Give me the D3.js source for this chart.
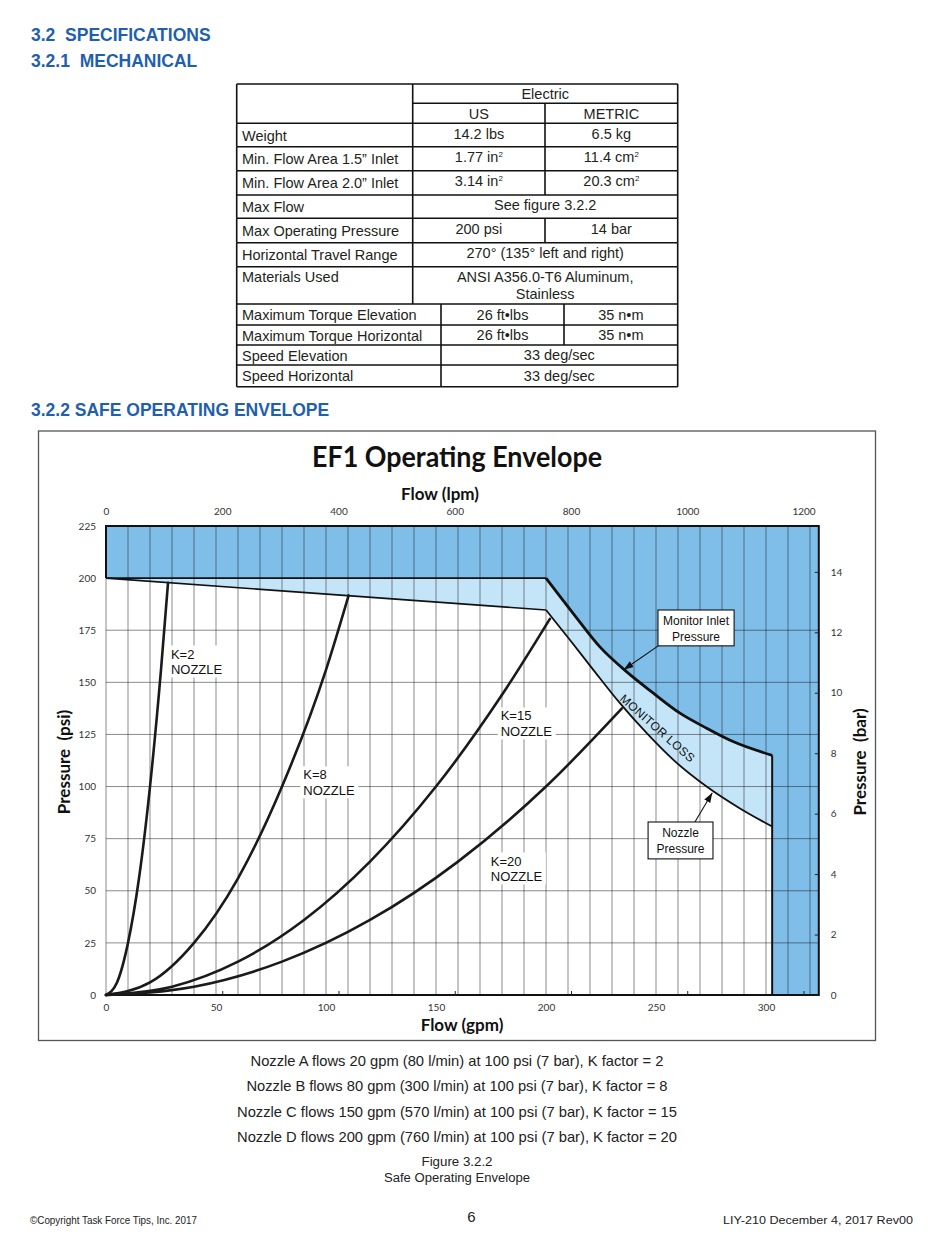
<!DOCTYPE html>
<html lang="en">
<head>
  <meta charset="UTF-8" />
  <title>EF1 Operating Envelope</title>
  <style>
    body { margin: 0; background: #fff; }
    svg { display: block; font-family: "Liberation Sans", Arial, sans-serif; }
    text { white-space: pre; }
    .head { fill: #1f5fad; font-weight: bold; font-size: 17.5px; }
    .cell { fill: #231f20; font-size: 14.5px; }
    .tick text { fill: #333; font-family: Lato, sans-serif; font-size: 10px; }
    .tick line { stroke: #222; }
    .axis-title { font-family: Lato, sans-serif; font-weight: bold; font-size: 17px; fill: #111; }
    .klabel { font-size: 13px; fill: #111; }
    .note { font-size: 12px; fill: #111; }
    .caption { fill: #222; }
  </style>
</head>
<body>
  <div id="page"></div>
  <script src="https://d3js.org/d3.v7.min.js"></script>
  <script>
    // ---- spec table values ----
    var specLabels = ["Weight", "Min. Flow Area 1.5\u201D Inlet", "Min. Flow Area 2.0\u201D Inlet", "Max Flow",
      "Max Operating Pressure", "Horizontal Travel Range", "Materials Used", "Maximum Torque Elevation",
      "Maximum Torque Horizontal", "Speed Elevation", "Speed Horizontal"];
    var specUS = ["14.2 lbs", "1.77 in^2", "3.14 in^2", "See figure 3.2.2", "200 psi",
      "270\u00B0 (135\u00B0 left and right)", "ANSI A356.0-T6 Aluminum,|Stainless",
      "26 ft\u2022lbs", "26 ft\u2022lbs", "33 deg/sec", "33 deg/sec"];
    var specMetric = ["6.5 kg", "11.4 cm^2", "20.3 cm^2", null, "14 bar", null, null,
      "35 n\u2022m", "35 n\u2022m", null, null];

    // ---- chart ticks ----
    var gpmTicks = [0, 50, 100, 150, 200, 250, 300];
    var lpmTicks = [0, 200, 400, 600, 800, 1000, 1200];
    var psiTicks = [0, 25, 50, 75, 100, 125, 150, 175, 200, 225];
    var barTicks = [0, 2, 4, 6, 8, 10, 12, 14];

    // ---- nozzle curves (gpm, psi) ----
    var k2Flow  = [0, 5, 10, 15, 20, 25, 28.2];
    var k2Psi   = [0, 6, 25, 56, 100, 156, 197.8];
    var k8Flow  = [0, 20, 40, 60, 80, 100, 110.3];
    var k8Psi   = [0, 6, 25, 56, 100, 156, 191.7];
    var k15Flow = [0, 30, 60, 90, 120, 150, 180, 201.8];
    var k15Psi  = [0, 4, 16, 36, 64, 100, 144, 180.5];
    var k20Flow = [0, 40, 80, 120, 160, 200, 234.5];
    var k20Psi  = [0, 4, 16, 36, 64, 100, 137.5];

    // ---- envelope ----
    var topFlow = [0, 200];
    var topPsi = [200, 184.7];
    var inletFlow = [200, 212.4, 224.5, 236.7, 248.8, 260.9, 273, 285, 302.8];
    var inletPsi  = [200, 183, 167, 155, 144.8, 135.2, 128, 121.6, 115];
    var nozzleFlow = [200, 210.9, 221.5, 233.6, 245.8, 257.9, 273, 288, 302.8];
    var nozzlePsi  = [184.7, 170.3, 156, 140, 125.6, 112.8, 100, 89.6, 80.8];

    var nozzleNotes = [
      "Nozzle A flows 20 gpm (80 l/min) at 100 psi (7 bar), K factor = 2",
      "Nozzle B flows 80 gpm (300 l/min) at 100 psi (7 bar), K factor = 8",
      "Nozzle C flows 150 gpm (570 l/min) at 100 psi (7 bar), K factor = 15",
      "Nozzle D flows 200 gpm (760 l/min) at 100 psi (7 bar), K factor = 20"];

    var svg = d3.select("#page").append("svg")
      .attr("width", 950).attr("height", 1248);

    // ---- section headings ----
    svg.append("text").attr("class", "head").attr("x", 31).attr("y", 40.5).text("3.2  SPECIFICATIONS");
    svg.append("text").attr("class", "head").attr("x", 31).attr("y", 67).text("3.2.1  MECHANICAL");
    svg.append("text").attr("class", "head").attr("x", 31).attr("y", 415.5).text("3.2.2 SAFE OPERATING ENVELOPE");

    // ---- table ----
    var tbl = svg.append("g");
    var rowLines = [84, 103.3, 123.3, 146.7, 170.7, 195, 218.3, 242.7, 266.7, 304, 325, 345, 365, 386.7];
    var colsA = [236.7, 412.7, 545, 677.7], colsB = [236.7, 441, 564, 677.7];

    function hline(x1, x2, yy) {
      tbl.append("line").attr("x1", x1).attr("x2", x2).attr("y1", yy).attr("y2", yy)
        .attr("stroke", "#111").attr("stroke-width", 1.6);
    }
    function vline(xx, y1, y2) {
      tbl.append("line").attr("x1", xx).attr("x2", xx).attr("y1", y1).attr("y2", y2)
        .attr("stroke", "#111").attr("stroke-width", 1.6);
    }
    function cellText(str, cx, cy, anchor) {
      var t = tbl.append("text").attr("class", "cell").attr("x", cx).attr("y", cy)
        .attr("dy", "0.35em").attr("text-anchor", anchor);
      var parts = str.split("^");
      t.append("tspan").text(parts[0]);
      if (parts[1]) t.append("tspan").attr("dy", -5).attr("font-size", 8).text(parts[1]);
    }

    // header rows
    hline(colsA[0], colsA[3], rowLines[0]);
    hline(colsA[1], colsA[3], rowLines[1]);
    vline(colsA[0], rowLines[0], rowLines[2]);
    vline(colsA[1], rowLines[0], rowLines[2]);
    vline(colsA[3], rowLines[0], rowLines[2]);
    vline(colsA[2], rowLines[1], rowLines[2]);
    cellText("Electric", (colsA[1] + colsA[3]) / 2, 94, "middle");
    cellText("US", (colsA[1] + colsA[2]) / 2, 113.5, "middle");
    cellText("METRIC", (colsA[2] + colsA[3]) / 2, 113.5, "middle");

    specLabels.forEach(function (lab, i) {
      var top = rowLines[i + 2], bot = rowLines[i + 3];
      var cols = i < 7 ? colsA : colsB;
      var mid = (top + bot) / 2;
      var off = i < 7 ? -1.5 : 0;
      hline(cols[0], cols[3], top);
      vline(cols[0], top, bot);
      vline(cols[1], top, bot);
      vline(cols[3], top, bot);
      if (i === 6) {
        cellText(lab, 242, top + 10, "start");
        var lines = specUS[i].split("|");
        cellText(lines[0], (cols[1] + cols[3]) / 2, top + 10.5, "middle");
        cellText(lines[1], (cols[1] + cols[3]) / 2, top + 27.5, "middle");
        return;
      }
      cellText(lab, 242, mid + 0.5, "start");
      if (specMetric[i] !== null) {
        vline(cols[2], top, bot);
        cellText(specUS[i], (cols[1] + cols[2]) / 2, mid + off, "middle");
        cellText(specMetric[i], (cols[2] + cols[3]) / 2, mid + off, "middle");
      } else {
        cellText(specUS[i], (cols[1] + cols[3]) / 2, mid + off, "middle");
      }
    });
    hline(colsA[0], colsA[3], rowLines[rowLines.length - 1]);

    // ---- chart frame ----
    svg.append("rect").attr("x", 38.5).attr("y", 431).attr("width", 837).attr("height", 609.5)
      .attr("fill", "none").attr("stroke", "#555").attr("stroke-width", 1.3);

    svg.append("text").attr("x", 457).attr("y", 467)
      .attr("text-anchor", "middle")
      .attr("font-family", "Lato, sans-serif").attr("font-weight", "bold").attr("font-size", 28)
      .attr("fill", "#111").attr("textLength", 290).attr("lengthAdjust", "spacingAndGlyphs")
      .text("EF1 Operating Envelope");

    // scales: gpm / psi primary, lpm / bar secondary
    var x = d3.scaleLinear().domain([0, 324]).range([106, 818.8]);
    var y = d3.scaleLinear().domain([0, 225]).range([995, 526]);
    var xl = d3.scaleLinear().domain([0, 324 * 3.785]).range(x.range());
    var yb = d3.scaleLinear().domain([0, 225 / 14.5]).range(y.range());

    var plot = svg.append("g");
    var curve = d3.line().x(function (d) { return x(d[0]); }).y(function (d) { return y(d[1]); })
      .curve(d3.curveMonotoneX);
    function pts(fx, py) { return fx.map(function (v, i) { return [v, py[i]]; }); }
    function seg(p) { return curve(p).replace(/^M/, "L"); }
    var inletPts = pts(inletFlow, inletPsi);
    var nozzlePts = pts(nozzleFlow, nozzlePsi);
    var endFlow = inletFlow[inletFlow.length - 1];

    // fills: dark everywhere, light below monitor inlet, white below nozzle pressure
    plot.append("rect").attr("x", x(0)).attr("y", y(225))
      .attr("width", x(324) - x(0)).attr("height", y(0) - y(225)).attr("fill", "#7fbee9");
    plot.append("path").attr("fill", "#c4e5f8")
      .attr("d", "M" + x(0) + "," + y(0) + "L" + x(0) + "," + y(200) + seg(inletPts) +
        "L" + x(endFlow) + "," + y(0) + "Z");
    plot.append("path").attr("fill", "#fff")
      .attr("d", "M" + x(0) + "," + y(0) + "L" + x(topFlow[0]) + "," + y(topPsi[0]) + seg(nozzlePts) +
        "L" + x(endFlow) + "," + y(0) + "Z");

    // grid
    var grid = plot.append("g").attr("stroke", "#1a1a1a").attr("stroke-opacity", 0.5).attr("stroke-width", 1);
    grid.selectAll(".gv").data(d3.range(0, 321, 10)).enter().append("line")
      .attr("x1", function (d) { return x(d); }).attr("x2", function (d) { return x(d); })
      .attr("y1", y(0)).attr("y2", y(225));
    grid.selectAll(".gh").data([25, 50, 75, 100, 125, 150, 175]).enter().append("line")
      .attr("x1", x(0)).attr("x2", x(324))
      .attr("y1", function (d) { return y(d); }).attr("y2", function (d) { return y(d); });

    // black outlines
    var ink = plot.append("g").attr("fill", "none").attr("stroke", "#111");
    function straight(p, w) {
      ink.append("path").attr("stroke-width", w)
        .attr("d", d3.line().x(function (d) { return x(d[0]); }).y(function (d) { return y(d[1]); })(p));
    }
    straight([[0, 200], [0, 225], [324, 225], [324, 0], [0, 0]], 2);
    straight([[0, 200], [200, 200]], 1.6);
    straight(pts(topFlow, topPsi), 1.6);
    straight([[endFlow, 115], [endFlow, 0]], 2);
    ink.append("path").attr("stroke-width", 2.8).attr("d", curve(inletPts));
    ink.append("path").attr("stroke-width", 1.8).attr("d", curve(nozzlePts));

    // nozzle curves
    [[k2Flow, k2Psi], [k8Flow, k8Psi], [k15Flow, k15Psi], [k20Flow, k20Psi]].forEach(function (k) {
      plot.append("path").attr("fill", "none").attr("stroke", "#1a1a1a").attr("stroke-width", 2.6)
        .attr("stroke-linecap", "round").attr("d", curve(pts(k[0], k[1])));
    });

    // axes
    var ax = svg.append("g");
    ax.append("g").attr("transform", "translate(" + x(0) + ",0)")
      .call(d3.axisLeft(y).tickValues(psiTicks).tickSize(0).tickPadding(10))
      .call(function (g) { g.select(".domain").remove(); });
    ax.append("g").attr("transform", "translate(0," + y(0) + ")")
      .call(d3.axisBottom(x).tickValues(gpmTicks).tickSize(0).tickPadding(9))
      .call(function (g) { g.select(".domain").remove(); });
    ax.append("g").attr("transform", "translate(0," + y(225) + ")")
      .call(d3.axisTop(xl).tickValues(lpmTicks).tickSize(0).tickPadding(11).tickFormat(d3.format("d")))
      .call(function (g) { g.select(".domain").remove(); });
    ax.append("g").attr("transform", "translate(0," + y(0) + ")")
      .call(d3.axisBottom(xl).tickValues(lpmTicks.slice(1)).tickSizeInner(-4).tickSizeOuter(0).tickFormat(""))
      .call(function (g) { g.select(".domain").remove(); });
    ax.append("g").attr("transform", "translate(" + x(324) + ",0)")
      .call(d3.axisRight(yb).tickValues(barTicks).tickSizeInner(-4).tickSizeOuter(0).tickPadding(12))
      .call(function (g) { g.select(".domain").remove(); });

    svg.append("text").attr("class", "axis-title").attr("x", 440).attr("y", 500)
      .attr("text-anchor", "middle").text("Flow (lpm)");
    svg.append("text").attr("class", "axis-title").attr("x", 462).attr("y", 1031)
      .attr("text-anchor", "middle").text("Flow (gpm)");
    svg.append("text").attr("class", "axis-title").attr("text-anchor", "middle")
      .attr("transform", "translate(69.5,762) rotate(-90)").text("Pressure  (psi)");
    svg.append("text").attr("class", "axis-title").attr("text-anchor", "middle")
      .attr("transform", "translate(866,762) rotate(-90)").text("Pressure  (bar)");

    // K labels with white backing
    var kLabels = [["K=2", 29.5, 163.6], ["K=8", 89.7, 105.6], ["K=15", 179.4, 133.9], ["K=20", 174.9, 64.3]];
    kLabels.forEach(function (k) {
      var g = svg.append("g").attr("transform", "translate(" + x(k[1]) + "," + y(k[2]) + ")");
      g.append("rect").attr("x", -3).attr("y", -8.5).attr("width", 58).attr("height", 32).attr("fill", "#fff");
      g.append("text").attr("class", "klabel").attr("dy", "0.35em").text(k[0]);
      g.append("text").attr("class", "klabel").attr("y", 15.5).attr("dy", "0.35em").text("NOZZLE");
    });

    // monitor loss label
    svg.append("text").attr("class", "note").attr("text-anchor", "middle").attr("dy", "0.35em")
      .attr("transform", "translate(" + x(250.7) + "," + y(128) + ") rotate(41.5)")
      .attr("letter-spacing", 0.3).text("MONITOR LOSS");

    // callouts
    svg.append("defs").append("marker").attr("id", "arr")
      .attr("viewBox", "0 0 10 10").attr("refX", 10).attr("refY", 5)
      .attr("markerWidth", 9).attr("markerHeight", 9).attr("orient", "auto")
      .append("path").attr("d", "M0,1.5L10,5L0,8.5Z").attr("fill", "#111");

    function callout(b, l1, l2, from, to) {
      svg.append("line").attr("x1", x(from[0])).attr("y1", y(from[1]))
        .attr("x2", x(to[0])).attr("y2", y(to[1]))
        .attr("stroke", "#111").attr("stroke-width", 1.1).attr("marker-end", "url(#arr)");
      var x0 = x(b[0]), x1 = x(b[1]), y0 = y(b[2]), y1 = y(b[3]);
      svg.append("rect").attr("x", x0).attr("y", y0).attr("width", x1 - x0).attr("height", y1 - y0)
        .attr("fill", "#fff").attr("stroke", "#111").attr("stroke-width", 1.1);
      svg.append("text").attr("class", "note").attr("text-anchor", "middle")
        .attr("x", (x0 + x1) / 2).attr("y", y0 + 11).attr("dy", "0.35em").text(l1);
      svg.append("text").attr("class", "note").attr("text-anchor", "middle")
        .attr("x", (x0 + x1) / 2).attr("y", y0 + 26.5).attr("dy", "0.35em").text(l2);
    }
    callout([250.9, 285.5, 184.7, 167.5], "Monitor Inlet", "Pressure", [251, 167.5], [235.3, 156]);
    callout([246.4, 275.9, 83, 65.3], "Nozzle", "Pressure", [267.7, 83], [275.6, 97]);

    // ---- notes under chart ----
    var noteY = [1061, 1086, 1112, 1137], noteW = [413, 421, 440, 440];
    nozzleNotes.forEach(function (n, i) {
      svg.append("text").attr("class", "caption").attr("x", 457).attr("y", noteY[i]).attr("dy", "0.35em")
        .attr("text-anchor", "middle").attr("font-size", 14.5)
        .attr("textLength", noteW[i]).attr("lengthAdjust", "spacingAndGlyphs").text(n);
    });
    svg.append("text").attr("class", "caption").attr("x", 457).attr("y", 1162).attr("dy", "0.35em")
      .attr("text-anchor", "middle").attr("font-size", 12.5)
      .attr("textLength", 71).attr("lengthAdjust", "spacingAndGlyphs").text("Figure 3.2.2");
    svg.append("text").attr("class", "caption").attr("x", 457).attr("y", 1178).attr("dy", "0.35em")
      .attr("text-anchor", "middle").attr("font-size", 12.5)
      .attr("textLength", 146).attr("lengthAdjust", "spacingAndGlyphs").text("Safe Operating Envelope");

    // ---- footer ----
    svg.append("text").attr("class", "caption").attr("x", 30).attr("y", 1220).attr("dy", "0.35em")
      .attr("font-size", 10.5).attr("textLength", 167).attr("lengthAdjust", "spacingAndGlyphs")
      .text("\u00A9Copyright Task Force Tips, Inc. 2017");
    svg.append("text").attr("class", "caption").attr("x", 471.5).attr("y", 1217).attr("dy", "0.35em")
      .attr("text-anchor", "middle").attr("font-size", 15).text("6");
    svg.append("text").attr("class", "caption").attr("x", 913).attr("y", 1220).attr("dy", "0.35em")
      .attr("text-anchor", "end").attr("font-size", 10.5)
      .attr("textLength", 190).attr("lengthAdjust", "spacingAndGlyphs")
      .text("LIY-210 December 4, 2017 Rev00");
  </script>
</body>
</html>
